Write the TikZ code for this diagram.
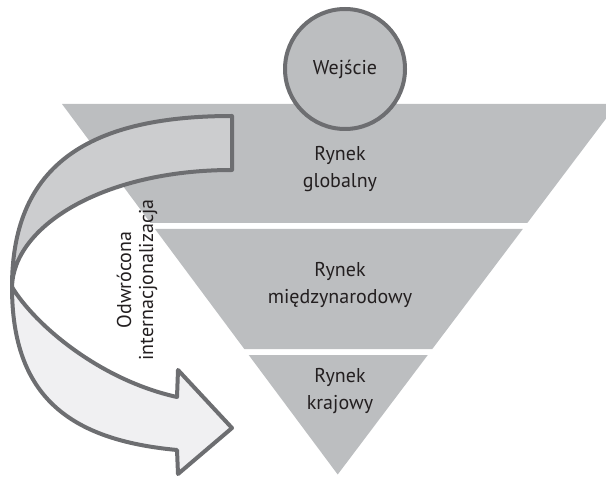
\documentclass[tikz,border=0pt]{standalone}
\usepackage{fontspec}
\setmainfont{PT Sans}
\definecolor{bandgray}{RGB}{188,190,192}
\definecolor{backface}{RGB}{204,205,207}
\definecolor{frontface}{RGB}{240,240,242}
\definecolor{rim}{RGB}{109,110,113}
\definecolor{ink}{RGB}{35,31,32}
\begin{document}
\begin{tikzpicture}[x=0.75pt,y=-0.75pt,
  band/.style={fill=bandgray},
  face/.style={draw=rim, line width=3pt, line join=round},
  lbl/.style={text=ink, font=\fontsize{15}{20}\selectfont, align=center}]
\useasboundingbox (0,0) rectangle (606,477);
\clip (0,0) rectangle (606,477);
% funnel: three bands separated by thin white gaps
\fill[band] (62,104) -- (617,104) -- (527.3,223) -- (150.5,223) -- cycle;
\fill[band] (155,229) -- (522.8,229) -- (432.3,349) -- (244.3,349) -- cycle;
\fill[band] (248.7,355) -- (427.8,355) -- (337.7,474.5) -- cycle;
% curved arrow, lower (front) face with the head
\filldraw[face, fill=frontface] (12,287) .. controls (12,397) and (70,440) .. (177,450)
  -- (178,474) -- (232,428) -- (178,370) -- (177,397)
  .. controls (100,380) and (35,325) .. (12,287) -- cycle;
% curved arrow, upper (back) face with the tail
\filldraw[face, fill=backface] (232,116) .. controls (82,116) and (12,170) .. (12,287)
  .. controls (13,227) and (102,170) .. (232,170) -- cycle;
% entry circle
\node[circle, draw=rim, line width=3pt, fill=bandgray, minimum size=90pt, inner sep=0pt,
  lbl] (entry) at (345,69) {Wejście};
% band labels
\node[lbl] (global) at (340,169) {Rynek\\globalny};
\node[lbl] (intl) at (340,285) {Rynek\\międzynarodowy};
\node[lbl] (domestic) at (340,391) {Rynek\\krajowy};
% arrow label
\node[lbl, rotate=90, font=\fontsize{15}{16.5}\selectfont] (reverse) at (137,280)
  {Odwrócona\\internacjonalizacja};
\end{tikzpicture}
\end{document}
